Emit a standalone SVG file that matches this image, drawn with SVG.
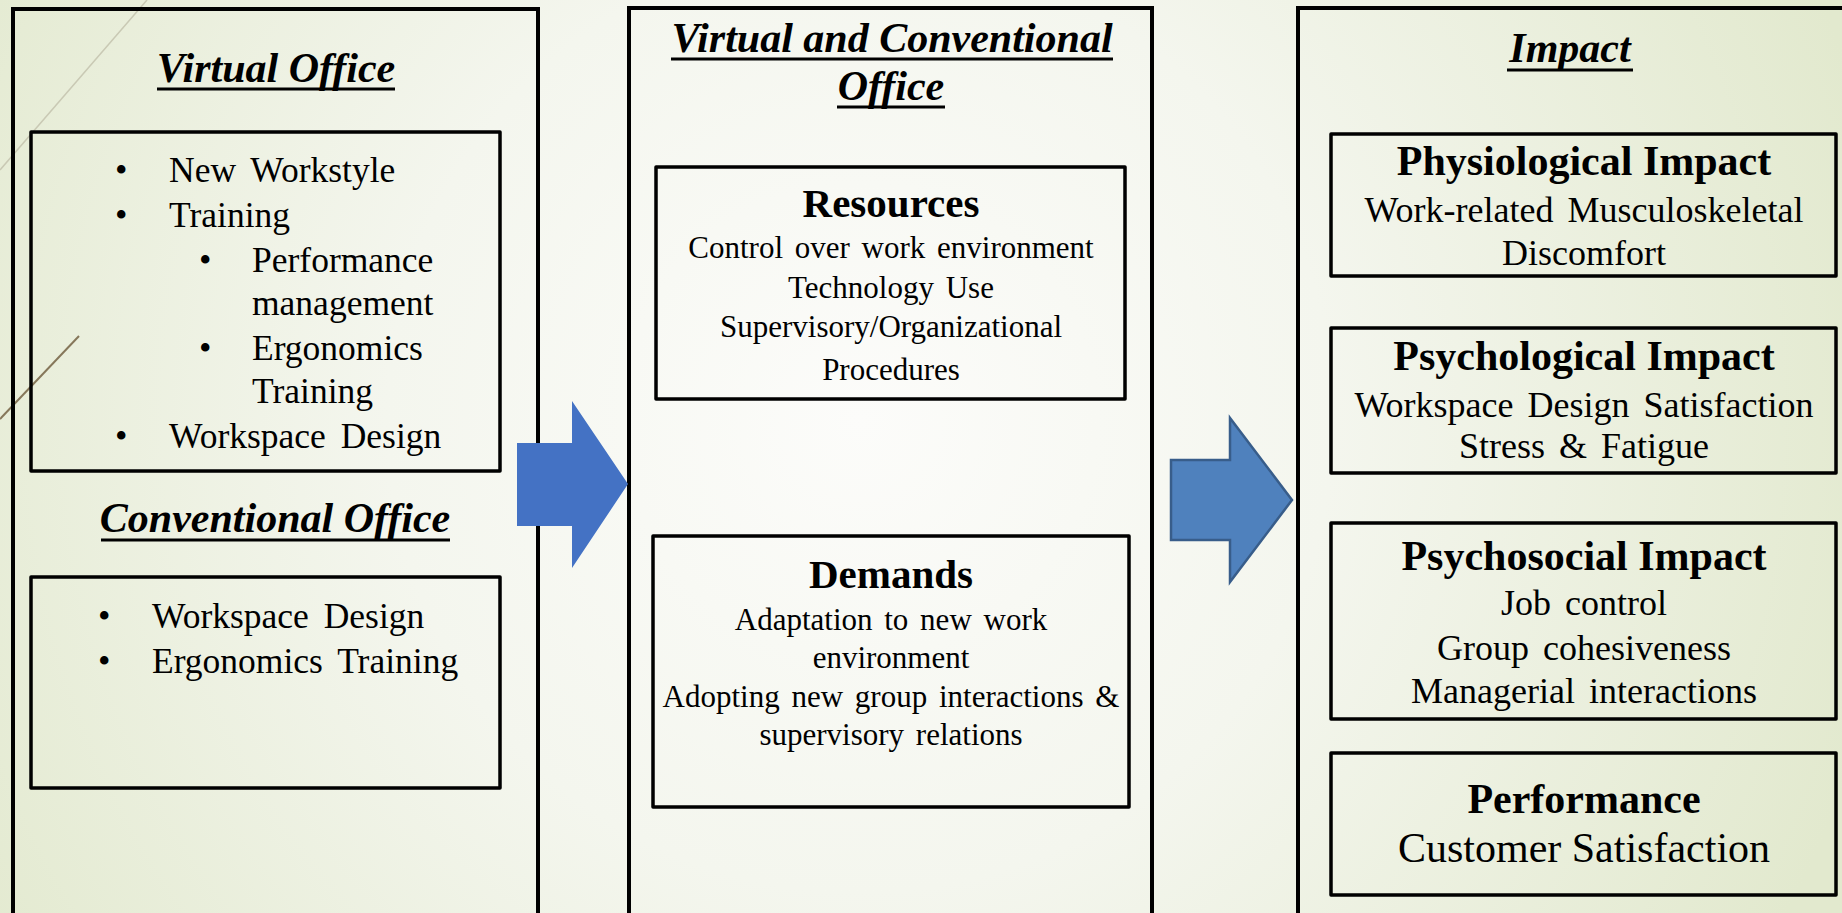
<svg xmlns="http://www.w3.org/2000/svg" width="1842" height="913" viewBox="0 0 1842 913">
  <defs>
    <radialGradient id="bg" cx="860" cy="420" r="1050" gradientUnits="userSpaceOnUse">
      <stop offset="0" stop-color="#FCFCFA"/>
      <stop offset="0.45" stop-color="#F4F6EE"/>
      <stop offset="1" stop-color="#E2E9CE"/>
    </radialGradient>
    <style>
      .outer { fill: none; stroke: #000; stroke-width: 4; }
      .inner { fill: none; stroke: #000; stroke-width: 3.5; stroke-linejoin: round; }
      .title { font-family: "Liberation Serif", "Times New Roman", serif; font-weight: bold; font-style: italic; font-size: 42px; fill: #000; text-anchor: middle; }
      .uline { stroke: #000; stroke-width: 3; }
      .head { font-family: "Liberation Serif", "Times New Roman", serif; font-weight: bold; font-size: 41px; fill: #000; text-anchor: middle; }
      .rhead { font-family: "Liberation Serif", "Times New Roman", serif; font-weight: bold; font-size: 42px; fill: #000; text-anchor: middle; }
      .body { font-family: "Liberation Serif", "Times New Roman", serif; font-size: 31px; fill: #000; text-anchor: middle; word-spacing: 4px; }
      .rbody { font-family: "Liberation Serif", "Times New Roman", serif; font-size: 36px; fill: #000; text-anchor: middle; word-spacing: 5px; }
      .item { font-family: "Liberation Serif", "Times New Roman", serif; font-size: 35.5px; fill: #000; word-spacing: 6px; }
      .arrow1 { fill: #4472C4; }
      .arrow2 { fill: #4F81BD; stroke: #385D8A; stroke-width: 2.5; stroke-linejoin: miter; }
    </style>
  </defs>

  <!-- slide background with decorative strokes -->
  <rect x="0" y="0" width="1842" height="913" fill="url(#bg)"/>
  <line x1="147" y1="0" x2="0" y2="170" stroke="#C9C9B4" stroke-width="1.5"/>
  <line x1="79" y1="336" x2="0" y2="419" stroke="#86775A" stroke-width="2"/>

  <!-- left column: virtual and conventional office -->
  <g id="virtual-office">
    <rect class="outer" x="13" y="9" width="525" height="1000"/>
    <text class="title" x="276" y="82">Virtual Office</text>
    <line class="uline" x1="157" y1="89" x2="395" y2="89"/>
    <rect class="inner" x="31" y="132" width="469" height="339"/>
    <g class="item">
      <text x="115" y="182">•</text><text x="169" y="182">New Workstyle</text>
      <text x="115" y="227">•</text><text x="169" y="227">Training</text>
      <text x="199" y="272">•</text><text x="252" y="272">Performance</text>
      <text x="252" y="315">management</text>
      <text x="199" y="360">•</text><text x="252" y="360">Ergonomics</text>
      <text x="252" y="403">Training</text>
      <text x="115" y="448">•</text><text x="169" y="448">Workspace Design</text>
    </g>
  </g>

  <g id="conventional-office">
    <text class="title" x="275" y="532">Conventional Office</text>
    <line class="uline" x1="101" y1="540" x2="450" y2="540"/>
    <rect class="inner" x="31" y="577" width="469" height="211"/>
    <g class="item">
      <text x="98" y="628">•</text><text x="152" y="628">Workspace Design</text>
      <text x="98" y="673">•</text><text x="152" y="673">Ergonomics Training</text>
    </g>
  </g>

  <!-- middle column: shared resources and demands -->
  <g id="virtual-conventional-office">
    <rect class="outer" x="629" y="8" width="523" height="1000"/>
    <text class="title" x="892" y="52">Virtual and Conventional</text>
    <line class="uline" x1="671" y1="59" x2="1113" y2="59"/>
    <text class="title" x="891" y="100">Office</text>
    <line class="uline" x1="837" y1="107" x2="945" y2="107"/>
  </g>

  <g id="resources">
    <rect class="inner" x="656" y="167" width="469" height="232"/>
    <text class="head" x="891" y="217">Resources</text>
    <text class="body" x="891" y="258">Control over work environment</text>
    <text class="body" x="891" y="298">Technology Use</text>
    <text class="body" x="891" y="337">Supervisory/Organizational</text>
    <text class="body" x="891" y="380">Procedures</text>
  </g>

  <g id="demands">
    <rect class="inner" x="653" y="536" width="476" height="271"/>
    <text class="head" x="891" y="588">Demands</text>
    <text class="body" x="891" y="630">Adaptation to new work</text>
    <text class="body" x="891" y="668">environment</text>
    <text class="body" x="891" y="707">Adopting new group interactions &amp;</text>
    <text class="body" x="891" y="745">supervisory relations</text>
  </g>

  <!-- right column: impact outcomes -->
  <g id="impact">
    <rect class="outer" x="1298" y="8" width="600" height="1000"/>
    <text class="title" x="1570" y="62">Impact</text>
    <line class="uline" x1="1507" y1="70" x2="1633" y2="70"/>
  </g>

  <g id="physiological-impact">
    <rect class="inner" x="1331" y="134" width="505" height="142"/>
    <text class="rhead" x="1584" y="175">Physiological Impact</text>
    <text class="rbody" x="1584" y="222">Work-related Musculoskeletal</text>
    <text class="rbody" x="1584" y="265">Discomfort</text>
  </g>

  <g id="psychological-impact">
    <rect class="inner" x="1331" y="328" width="505" height="145"/>
    <text class="rhead" x="1584" y="370">Psychological Impact</text>
    <text class="rbody" x="1584" y="417">Workspace Design Satisfaction</text>
    <text class="rbody" x="1584" y="458">Stress &amp; Fatigue</text>
  </g>

  <g id="psychosocial-impact">
    <rect class="inner" x="1331" y="523" width="505" height="196"/>
    <text class="rhead" x="1584" y="570">Psychosocial Impact</text>
    <text class="rbody" x="1584" y="615">Job control</text>
    <text class="rbody" x="1584" y="660">Group cohesiveness</text>
    <text class="rbody" x="1584" y="703">Managerial interactions</text>
  </g>

  <g id="performance">
    <rect class="inner" x="1331" y="753" width="505" height="142"/>
    <text class="rhead" x="1584" y="813">Performance</text>
    <text class="rbody" x="1584" y="862" style="font-size:42px;word-spacing:0">Customer Satisfaction</text>
  </g>

  <!-- block arrows between columns -->
  <g id="connectors">
    <polygon class="arrow1" points="517,443 572,443 572,401 628,484 572,568 572,526 517,526"/>
    <polygon class="arrow2" points="1171,460 1230,460 1230,418 1292,500 1230,582 1230,540 1171,540"/>
  </g>
</svg>
